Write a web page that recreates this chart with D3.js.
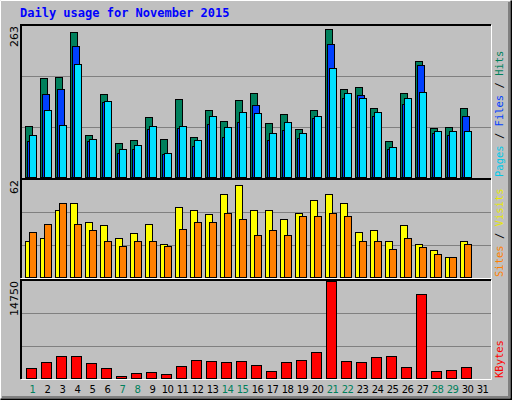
<!DOCTYPE html>
<html><head><meta charset="utf-8">
<script src="https://cdn.jsdelivr.net/npm/d3@7"></script>
<style>body{margin:0;background:#fff}</style>
</head><body>
<script>
const days = d3.range(1, 32)
const weekend = [1, 7, 8, 14, 15, 21, 22, 28, 29]
const hits = [88,172,175,252,74,144,59,64,104,66,135,69,116,97,134,146,94,109,83,116,257,153,156,121,62,146,202,85,87,120]
const files = [63,145,153,228,63,131,42,49,84,40,85,54,92,70,96,125,64,82,68,103,231,137,142,107,48,128,195,76,74,106]
const pages = [73,117,90,197,66,132,49,56,88,42,88,64,107,87,114,111,77,95,77,107,190,146,137,114,53,137,148,80,80,80]
const visits = [23,25,43,47,35,33,25,28,34,21,45,43,40,53,59,43,43,37,41,49,53,47,29,30,23,33,21,17,13,23]
const sites = [29,34,47,34,30,23,20,23,23,20,31,35,35,41,37,27,30,27,39,39,41,39,23,23,18,25,19,15,13,21]
const kbytes = [1507,2476,3284,3284,2315,1507,377,700,861,538,1830,2799,2638,2476,2638,1992,1023,2476,2799,3930,14750,2638,2476,3122,3284,1669,12812,1023,1184,1669]

const W = 512, H = 400
const svg = d3.select("body").append("svg").attr("width", W).attr("height", H)
  .style("font-family", "'DejaVu Sans Mono', monospace")

// frame
svg.append("rect").attr("width", W).attr("height", H).attr("fill", "#c0c0c0")
svg.append("path").attr("d", `M0.5,${H-0.5}V0.5H${W-0.5}`).attr("stroke", "#fff").attr("fill", "none")
svg.append("path").attr("d", `M0.5,${H-0.5}H${W-0.5}V0.5`).attr("stroke", "#000").attr("stroke-width", 2).attr("fill", "none")
svg.append("path").attr("d", `M2,${H-3}H${W-3}V2`).attr("stroke", "#808080").attr("stroke-width", 2).attr("fill", "none")

svg.append("text").attr("x", 20).attr("y", 17).attr("fill", "#0000ff")
  .attr("font-weight", "bold").attr("font-size", 12).text("Daily usage for November 2015")

const x = d3.scaleBand().domain(days).range([25, 25 + 31 * 15]).paddingInner(0)
const x0 = 21, x1 = 491

function panel(top, bottom, max, label, names) {
  const y = d3.scaleLinear().domain([0, max]).range([bottom, top])
  const g = svg.append("g")
  g.append("path").attr("d", `M${x0},${bottom + 1}V${top - 1}H${x1}`).attr("stroke", "#000").attr("stroke-width", 2).attr("fill", "none")
  g.append("path").attr("d", `M${x0},${bottom + 1.5}H${x1 + 0.5}V${top - 1}`).attr("stroke", "#fff").attr("fill", "none")
  ;[1 / 3, 2 / 3].forEach(f => g.append("line").attr("x1", x0 + 1).attr("x2", x1).attr("y1", Math.round(y(max * f)) + 0.5)
    .attr("y2", Math.round(y(max * f)) + 0.5).attr("stroke", "#808080"))
  g.append("text").attr("transform", `translate(18,${top}) rotate(-90)`).attr("text-anchor", "end")
    .attr("font-size", 11).attr("font-family", "'DejaVu Sans', sans-serif").text(label)
  // right legend, reads bottom-up
  const t = g.append("text").attr("transform", `translate(503,${bottom}) rotate(-90)`).attr("font-size", 10.5)
  names.forEach((n, i) => {
    if (i) t.append("tspan").attr("fill", "#000").text(" / ")
    t.append("tspan").attr("fill", n[1]).text(n[0])
  })
  return { g, y }
}

function bars(p, data, color, dx, w) {
  p.g.append("g").selectAll("rect").data(data).join("rect")
    .attr("x", (d, i) => x(days[i]) + dx + 0.5).attr("width", w)
    .attr("y", d => Math.round(p.y(d)) + 0.5).attr("height", d => p.y(0) - Math.round(p.y(d)))
    .attr("fill", color).attr("stroke", "#000").attr("stroke-width", 1)
}

const p1 = panel(26, 177, 263, "263", [["Pages", "#00c8e8"], ["Files", "#0040ff"], ["Hits", "#00805c"]])
bars(p1, hits, "#00805c", 0, 7)
bars(p1, files, "#0040ff", 2, 7)
bars(p1, pages, "#00e0ff", 4, 7)

const p2 = panel(180, 277, 62, "62", [["Sites", "#ff8000"], ["Visits", "#e8e800"]])
bars(p2, visits, "#ffff00", 0, 7)
bars(p2, sites, "#ff8000", 4, 7)

const p3 = panel(281, 378, 14750, "14750", [["KBytes", "#ff0000"]])
bars(p3, kbytes, "#ff0000", 1, 10)

svg.append("g").selectAll("text").data(days).join("text")
  .attr("x", d => x(d) + 7.5).attr("y", 393).attr("text-anchor", "middle")
  .attr("font-size", 10).attr("letter-spacing", -0.5).attr("font-family", "'DejaVu Sans', sans-serif")
  .attr("fill", d => weekend.includes(d) ? "#00805c" : "#000").text(d => d)
</script>
</body></html>
